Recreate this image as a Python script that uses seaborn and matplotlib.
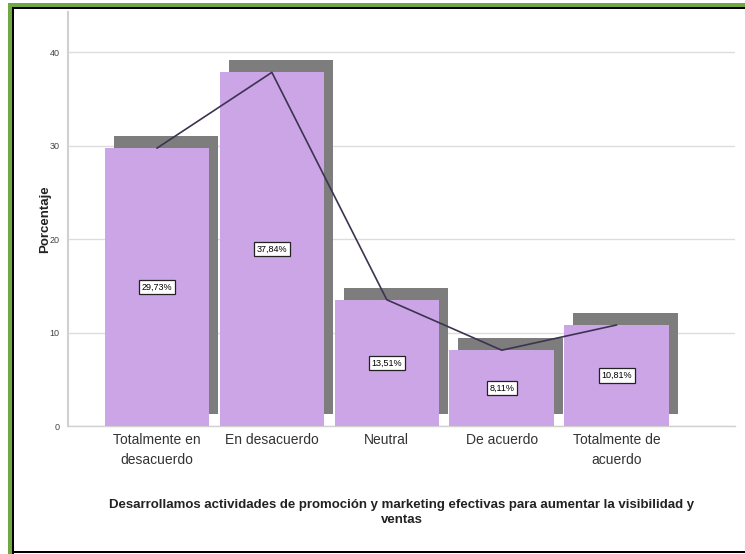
import matplotlib
matplotlib.use("Agg")
import matplotlib.pyplot as plt
import matplotlib.transforms as mtransforms
from matplotlib.patches import Rectangle
import seaborn as sns
import pandas as pd

categories = ["Totalmente en\ndesacuerdo", "En desacuerdo", "Neutral",
              "De acuerdo", "Totalmente de\nacuerdo"]
percentages = [29.73, 37.84, 13.51, 8.11, 10.81]
value_labels = ["29,73%", "37,84%", "13,51%", "8,11%", "10,81%"]
y_ticks = [0, 10, 20, 30, 40]
x_title = ("Desarrollamos actividades de promoción y marketing efectivas para aumentar la visibilidad y\n"
           "ventas")
y_title = "Porcentaje"

df = pd.DataFrame({"categoria": categories, "porcentaje": percentages})

sns.set_theme(style="white")
plt.rcParams["font.family"] = ["Liberation Sans", "DejaVu Sans"]

fig = plt.figure(figsize=(7.45, 5.54), dpi=100)
ax = fig.add_axes([68 / 745, 128 / 554, 667 / 745, 414 / 554])

bar_color = "#cba5e6"
shadow_color = "#7d7d7d"

# drop shadow: same bars shifted right/up by a few pixels
sns.barplot(data=df, x="categoria", y="porcentaje", color=shadow_color,
            saturation=1, width=0.91, ax=ax, zorder=2)
shadow_tr = mtransforms.offset_copy(ax.transData, fig=fig, x=9, y=12, units="dots")
for p in list(ax.patches):
    p.set_transform(shadow_tr)
    p.set_edgecolor("none")
n_shadow = len(ax.patches)

sns.barplot(data=df, x="categoria", y="porcentaje", color=bar_color,
            saturation=1, width=0.91, ax=ax, zorder=3)
for p in ax.patches[n_shadow:]:
    p.set_edgecolor("none")

# line joining bar tops
sns.lineplot(x=list(range(len(categories))), y=percentages, ax=ax,
             color="#3d3350", linewidth=1.2, zorder=4)

for i, (v, lab) in enumerate(zip(percentages, value_labels)):
    ax.text(i, v / 2, lab, ha="center", va="center", fontsize=6.5, color="black",
            zorder=5,
            bbox=dict(boxstyle="square,pad=0.3", facecolor="white",
                      edgecolor="#222222", linewidth=0.9))

ax.set_xlim(-0.774, 5.03)
ax.set_ylim(0, 44.3)
ax.set_yticks(y_ticks)
ax.set_yticklabels([str(t) for t in y_ticks], fontsize=6.5, color="#444444")
ax.tick_params(axis="y", length=4, width=0.8, color="#bbbbbb", pad=2)
ax.tick_params(axis="x", length=0, labelsize=10, labelcolor="#333333", pad=5)
for lbl in ax.get_xticklabels():
    lbl.set_linespacing(1.55)
ax.yaxis.grid(True, color="#dddddd", linewidth=1.0, zorder=0)
ax.set_axisbelow(True)

for s in ["top", "right"]:
    ax.spines[s].set_visible(False)
ax.spines["left"].set_color("#d0d0d0")
ax.spines["left"].set_linewidth(1.5)
ax.spines["bottom"].set_color("#d0d0d0")
ax.spines["bottom"].set_linewidth(1.0)

ax.set_xlabel(x_title, fontsize=9.5, fontweight="bold", color="#222222",
              labelpad=23, linespacing=1.35)
ax.set_ylabel(y_title, fontsize=9.5, fontweight="bold", color="#222222")
ax.yaxis.set_label_coords(-17 / 667, 0.5)

# page frame: green outer rule with black inner rule
W, H = 745, 554
def px_rect(x0, y0, w, h, color):
    fig.patches.append(Rectangle((x0 / W, 1 - (y0 + h) / H), w / W, h / H,
                                 transform=fig.transFigure, facecolor=color,
                                 edgecolor="none", zorder=10))

green = "#6fa844"
px_rect(8, 3, W - 8, 4, green)      # top green
px_rect(8, 3, 4, H - 3, green)      # left green
px_rect(12, 7, W - 12, 2, "black")  # top black
px_rect(12, 7, 2, H - 7, "black")   # left black
px_rect(12, H - 3, W - 12, 2, "black")  # bottom black

fig.savefig("out.png", dpi=100)
